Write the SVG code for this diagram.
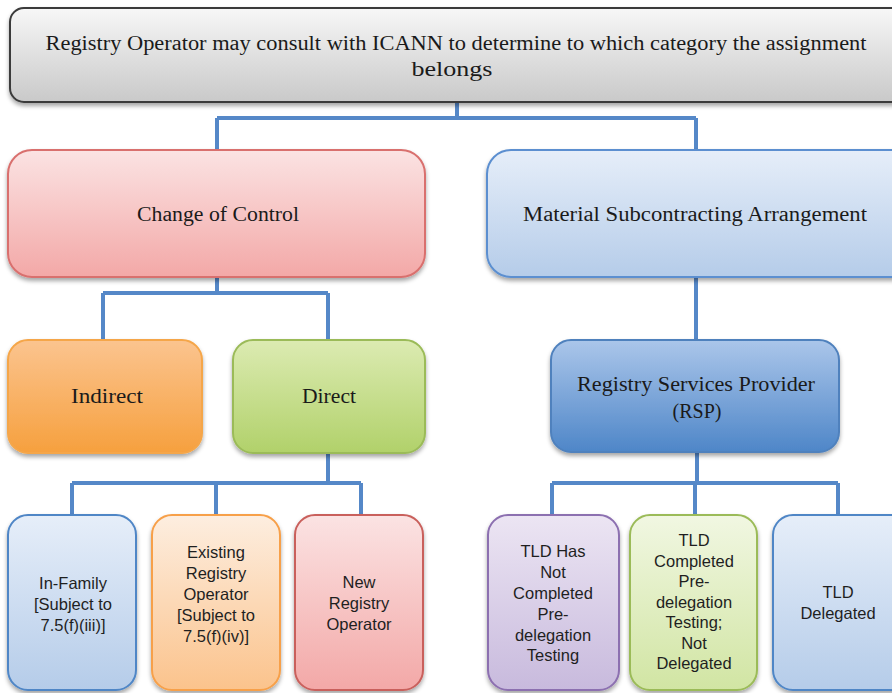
<svg xmlns="http://www.w3.org/2000/svg" width="892" height="693" viewBox="0 0 892 693">
<defs>
<filter id="sh" x="-10%" y="-10%" width="120%" height="125%"><feDropShadow dx="0" dy="3" stdDeviation="2" flood-color="#000" flood-opacity="0.35"/></filter>
<linearGradient id="gGray" x1="0" y1="0" x2="0" y2="1"><stop offset="0" stop-color="#f7f7f7"/><stop offset="1" stop-color="#c9c9c9"/></linearGradient>
<linearGradient id="gPink" x1="0" y1="0" x2="0" y2="1"><stop offset="0" stop-color="#fbe3e3"/><stop offset="1" stop-color="#f3a8a7"/></linearGradient>
<linearGradient id="gLBlue" x1="0" y1="0" x2="0" y2="1"><stop offset="0" stop-color="#e6eef9"/><stop offset="1" stop-color="#b5cce9"/></linearGradient>
<linearGradient id="gOrange" x1="0" y1="0" x2="0" y2="1"><stop offset="0" stop-color="#fbc48f"/><stop offset="1" stop-color="#f6a03e"/></linearGradient>
<linearGradient id="gGreen" x1="0" y1="0" x2="0" y2="1"><stop offset="0" stop-color="#dcebb2"/><stop offset="1" stop-color="#b1d16a"/></linearGradient>
<linearGradient id="gBlue" x1="0" y1="0" x2="0" y2="1"><stop offset="0" stop-color="#abc6ea"/><stop offset="1" stop-color="#4e86c8"/></linearGradient>
<linearGradient id="gLOrange" x1="0" y1="0" x2="0" y2="1"><stop offset="0" stop-color="#fdeee0"/><stop offset="1" stop-color="#fbc38c"/></linearGradient>
<linearGradient id="gPurple" x1="0" y1="0" x2="0" y2="1"><stop offset="0" stop-color="#ece5f3"/><stop offset="1" stop-color="#c8badd"/></linearGradient>
<linearGradient id="gLGreen" x1="0" y1="0" x2="0" y2="1"><stop offset="0" stop-color="#f1f7e2"/><stop offset="1" stop-color="#d1e5a3"/></linearGradient>
</defs>
<style>
.box{filter:url(#sh);stroke-width:2}
.t1{font-family:"Liberation Serif",serif;font-size:20px;fill:#1a1a1a;text-anchor:middle}
.t2{font-family:"Liberation Sans",sans-serif;font-size:16.5px;fill:#1f1f1f;text-anchor:middle}
.conn{fill:none;stroke:#5588c8;stroke-width:4}
</style>
<g id="connectors">
<path class="conn" d="M457,102 V118 M217,118 H696 M217,118 V150 M696,118 V150"/>
<path class="conn" d="M217,277 V293 M103,293 H328 M103,293 V340 M328,293 V340"/>
<path class="conn" d="M696,277 V340"/>
<path class="conn" d="M328,453 V483 M72,483 H361 M72,483 V515 M216,483 V515 M361,483 V515"/>
<path class="conn" d="M697,452 V483 M552,483 H838 M552,483 V515 M695,483 V515 M838,483 V515"/>
</g>
<g id="top">
<rect class="box" x="10" y="8" width="900" height="94" rx="14" fill="url(#gGray)" stroke="#3a3a3a"/>
<text class="t1" x="456" y="50" textLength="821" lengthAdjust="spacingAndGlyphs">Registry Operator may consult with ICANN to determine to which category the assignment</text>
<text class="t1" x="452" y="76" textLength="81" lengthAdjust="spacingAndGlyphs">belongs</text>
</g>
<g id="change">
<rect class="box" x="8" y="150" width="417" height="127" rx="24" fill="url(#gPink)" stroke="#d9706e"/>
<text class="t1" x="218" y="221" textLength="162" lengthAdjust="spacingAndGlyphs">Change of Control</text>
</g>
<g id="material">
<rect class="box" x="487" y="150" width="430" height="127" rx="24" fill="url(#gLBlue)" stroke="#5b8fd0"/>
<text class="t1" x="695" y="221" textLength="344" lengthAdjust="spacingAndGlyphs">Material Subcontracting Arrangement</text>
</g>
<g id="indirect">
<rect class="box" x="8" y="340" width="194" height="113" rx="20" fill="url(#gOrange)" stroke="#f5a649"/>
<text class="t1" x="107" y="403" textLength="72" lengthAdjust="spacingAndGlyphs">Indirect</text>
</g>
<g id="direct">
<rect class="box" x="233" y="340" width="192" height="113" rx="20" fill="url(#gGreen)" stroke="#9bbb59"/>
<text class="t1" x="329" y="403" textLength="54" lengthAdjust="spacingAndGlyphs">Direct</text>
</g>
<g id="rsp">
<rect class="box" x="551" y="340" width="288" height="112" rx="20" fill="url(#gBlue)" stroke="#4f81bd"/>
<text class="t1" x="696" y="391" textLength="238" lengthAdjust="spacingAndGlyphs">Registry Services Provider</text>
<text class="t1" x="697" y="418">(RSP)</text>
</g>
<g id="infamily">
<rect class="box" x="8" y="515" width="128" height="175" rx="20" fill="url(#gLBlue)" stroke="#4f86c6"/>
<text class="t2" x="73" y="589">In-Family</text>
<text class="t2" x="73" y="610">[Subject to</text>
<text class="t2" x="73" y="631">7.5(f)(iii)]</text>
</g>
<g id="existing">
<rect class="box" x="152" y="515" width="128" height="175" rx="20" fill="url(#gLOrange)" stroke="#f7a04a"/>
<text class="t2" x="216" y="558">Existing</text>
<text class="t2" x="216" y="579">Registry</text>
<text class="t2" x="216" y="600">Operator</text>
<text class="t2" x="216" y="621">[Subject to</text>
<text class="t2" x="216" y="642">7.5(f)(iv)]</text>
</g>
<g id="new">
<rect class="box" x="295" y="515" width="128" height="175" rx="20" fill="url(#gPink)" stroke="#c9605c"/>
<text class="t2" x="359" y="588">New</text>
<text class="t2" x="359" y="609">Registry</text>
<text class="t2" x="359" y="630">Operator</text>
</g>
<g id="tldhas">
<rect class="box" x="488" y="515" width="131" height="175" rx="20" fill="url(#gPurple)" stroke="#8c6fb0"/>
<text class="t2" x="553" y="557">TLD Has</text>
<text class="t2" x="553" y="578">Not</text>
<text class="t2" x="553" y="599">Completed</text>
<text class="t2" x="553" y="620">Pre-</text>
<text class="t2" x="553" y="641">delegation</text>
<text class="t2" x="553" y="661">Testing</text>
</g>
<g id="tldcompleted">
<rect class="box" x="630" y="515" width="127" height="175" rx="20" fill="url(#gLGreen)" stroke="#9bbb59"/>
<text class="t2" x="694" y="546">TLD</text>
<text class="t2" x="694" y="567">Completed</text>
<text class="t2" x="694" y="587">Pre-</text>
<text class="t2" x="694" y="608">delegation</text>
<text class="t2" x="694" y="628">Testing;</text>
<text class="t2" x="694" y="649">Not</text>
<text class="t2" x="694" y="669">Delegated</text>
</g>
<g id="tlddelegated">
<rect class="box" x="773" y="515" width="140" height="175" rx="20" fill="url(#gLBlue)" stroke="#4f86c6"/>
<text class="t2" x="838" y="598">TLD</text>
<text class="t2" x="838" y="619">Delegated</text>
</g>
</svg>
